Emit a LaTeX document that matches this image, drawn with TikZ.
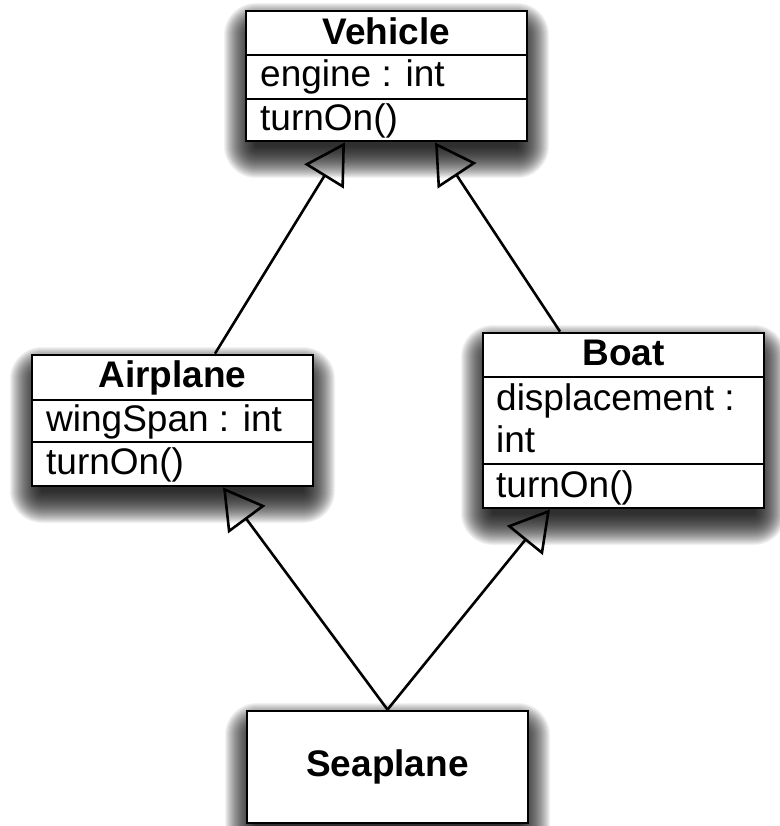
\documentclass[tikz,border=0pt]{standalone}
\usepackage{fontspec}
\setmainfont{Liberation Sans}
\usetikzlibrary{arrows.meta,calc}
\newcommand\myshade[4]{%
  \foreach \i in {1,...,32}{%
    \fill[black, opacity=0.05, rounded corners=\i pt]
      ({#1+10-\i},{#2+24-\i}) rectangle ({#3-10+\i},{#4+5+\i});
  }%
}
\begin{document}
\begin{tikzpicture}[x=1pt,y=-1pt,
  classbox/.style={draw=black, line width=2.8pt, fill=white, rectangle, inner sep=0pt},
  divider/.style={draw=black, line width=2.4pt},
  txt/.style={inner sep=0pt, anchor=base west, font=\fontsize{37pt}{44pt}\selectfont},
  ttl/.style={inner sep=0pt, anchor=base, font=\fontsize{37pt}{44pt}\selectfont\bfseries},
  inherit/.style={draw=black, line width=2.6pt,
    -{Triangle[open, length=40pt, width=46pt, line join=miter]}}
]
\path[use as bounding box] (0,0) rectangle (779,826);

% shadows
\myshade{246}{11}{527}{141}
\myshade{32}{355}{313}{486}
\myshade{483}{333}{764}{508}
\myshade{247}{711}{528}{823}

% boxes
\node[classbox, minimum width=281pt, minimum height=130pt] (vehicle) at (386.5,76) {};
\node[classbox, minimum width=281pt, minimum height=131pt] (airplane) at (172.5,420.5) {};
\node[classbox, minimum width=281pt, minimum height=175pt] (boat) at (623.5,420.5) {};
\node[classbox, minimum width=281pt, minimum height=112pt] (seaplane) at (387.5,767) {};

% dividers
\draw[divider] (246,55) -- (527,55);
\draw[divider] (246,99) -- (527,99);
\draw[divider] (32,400) -- (313,400);
\draw[divider] (32,442) -- (313,442);
\draw[divider] (483,377) -- (764,377);
\draw[divider] (483,464) -- (764,464);

% texts
\node[ttl] (vt) at (386.5,45) {Vehicle};
\node[txt] (va) at (260,87) {engine : int};
\node[txt] (vo) at (260,131) {turnOn()};
\node[ttl] (at) at (172.5,387) {Airplane};
\node[txt] (aa) at (46,431) {wingSpan : int};
\node[txt] (ao) at (46,474) {turnOn()};
\node[ttl] (bt) at (623.5,365) {Boat};
\node[txt] (ba1) at (496,410) {displacement :};
\node[txt] (ba2) at (496,452) {int};
\node[txt] (bo) at (496,497) {turnOn()};
\node[ttl] (st) at (387.5,776) {Seaplane};

% connectors
\coordinate (vL) at ($(vehicle.south)+(-41.5,0)$);
\coordinate (vR) at ($(vehicle.south)+(48.5,0)$);
\coordinate (aN) at ($(airplane.north)+(42.5,0)$);
\coordinate (aS) at ($(airplane.south)+(50.5,0)$);
\coordinate (bN) at ($(boat.north)+(-63.5,0)$);
\coordinate (bS) at ($(boat.south)+(-73.5,0)$);
\draw[inherit] (aN) -- (vL);
\draw[inherit] (bN) -- (vR);
\draw[inherit] (seaplane.north) -- (aS);
\draw[inherit] (seaplane.north) -- (bS);
\end{tikzpicture}
\end{document}
